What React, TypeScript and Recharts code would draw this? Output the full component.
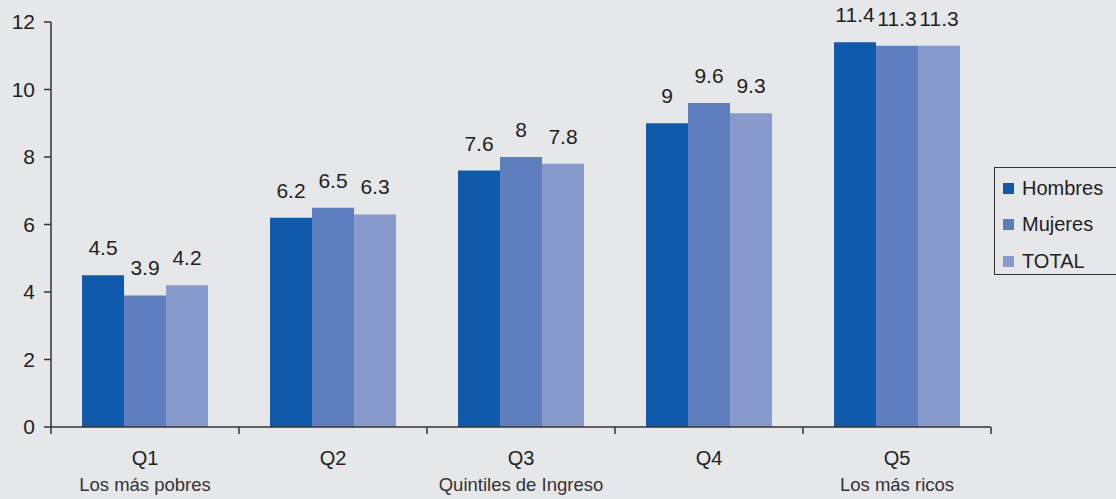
import { Bar, BarChart, LabelList, XAxis, YAxis } from "recharts";

const categories = ["Q1", "Q2", "Q3", "Q4", "Q5"];
const subLabels = ["Los más pobres", "", "Quintiles de Ingreso", "", "Los más ricos"];
const hombres = [4.5, 6.2, 7.6, 9, 11.4];
const mujeres = [3.9, 6.5, 8, 9.6, 11.3];
const total = [4.2, 6.3, 7.8, 9.3, 11.3];
const yTicks = [0, 2, 4, 6, 8, 10, 12];

const series = [
  { key: "hombres", name: "Hombres", color: "#0F5AAA" },
  { key: "mujeres", name: "Mujeres", color: "#5F7EBE" },
  { key: "total", name: "TOTAL", color: "#8899CC" },
];

const FONT = "'Liberation Sans', Arial, sans-serif";

const data = categories.map((q, i) => ({
  q,
  hombres: hombres[i],
  mujeres: mujeres[i],
  total: total[i],
}));

// x tick: label + sublabel, tick marks at category boundaries
const QuintileTick = (props: any) => {
  const { x, y, payload, index } = props;
  const half = payload?.offset ?? 94;
  const last = index === categories.length - 1;
  return (
    <g>
      <line x1={x - half} y1={y - 8} x2={x - half} y2={y - 1} stroke="#333" strokeWidth={1.5} />
      {last && <line x1={x + half} y1={y - 8} x2={x + half} y2={y - 1} stroke="#333" strokeWidth={1.5} />}
      <text x={x} y={y + 30} textAnchor="middle" fontSize={20} fill="#222" fontFamily={FONT}>
        {payload.value}
      </text>
      <text x={x} y={y + 56} textAnchor="middle" fontSize={18.5} fill="#333" fontFamily={FONT}>
        {subLabels[index]}
      </text>
    </g>
  );
};

const LegendBox = () => (
  <div
    style={{
      position: "absolute",
      left: 994,
      top: 167,
      width: 130,
      height: 108,
      border: "1.5px solid #333",
      padding: "2px 0 0 8px",
      fontFamily: FONT,
      fontSize: 20,
      color: "#222",
      boxSizing: "border-box",
    }}
  >
    {series.map((s) => (
      <div key={s.key} style={{ display: "flex", alignItems: "center", height: 36.5 }}>
        <span style={{ width: 11, height: 11, background: s.color, display: "inline-block", marginRight: 8 }} />
        {s.name}
      </div>
    ))}
  </div>
);

export default function App() {
  return (
    <div style={{ position: "fixed", left: 0, top: 0, width: 1116, height: 499, background: "#E6E7E9", overflow: "hidden" }}>
      <BarChart
        width={1116}
        height={499}
        data={data}
        margin={{ top: 22, right: 125, bottom: 12, left: 11 }}
        barCategoryGap="16.5%"
        barGap={0}
      >
        <XAxis
          dataKey="q"
          height={60}
          tick={<QuintileTick />}
          tickLine={false}
          axisLine={{ stroke: "#333", strokeWidth: 1.5 }}
          interval={0}
        />
        <YAxis
          domain={[0, 12]}
          ticks={yTicks}
          width={40}
          tick={{ fontSize: 21, fill: "#222", fontFamily: FONT }}
          tickLine={{ stroke: "#333", strokeWidth: 1.5 }}
          tickSize={7}
          tickMargin={9}
          axisLine={{ stroke: "#333", strokeWidth: 1.5 }}
        />
        {series.map((s) => (
          <Bar key={s.key} dataKey={s.key} name={s.name} fill={s.color} isAnimationActive={false}>
            <LabelList
              dataKey={s.key}
              position="top"
              offset={20}
              style={{ fontSize: 21, fill: "#222", fontFamily: FONT }}
            />
          </Bar>
        ))}
      </BarChart>
      <LegendBox />
    </div>
  );
}
